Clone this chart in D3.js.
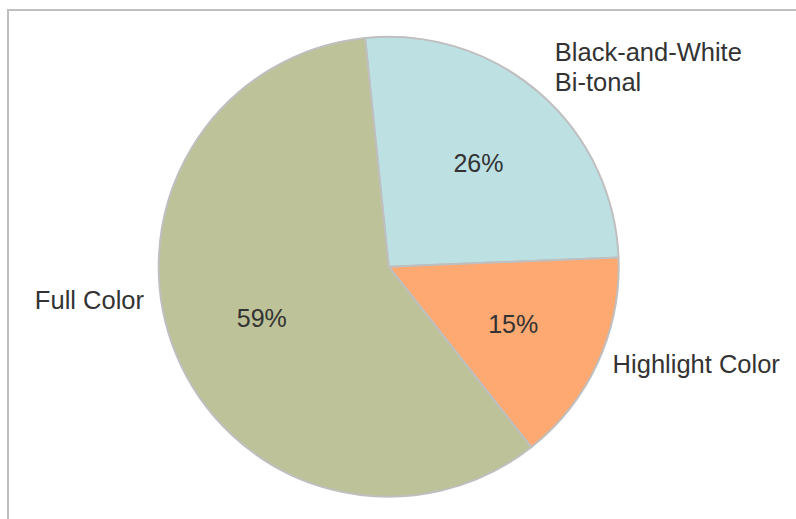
<!DOCTYPE html>
<html>
<head>
<meta charset="utf-8">
<script src="https://cdn.jsdelivr.net/npm/d3@7"></script>
<style>
  html, body { margin: 0; padding: 0; background: #ffffff; }
  svg { display: block; }
  text { font-family: "Liberation Sans", Arial, Helvetica, sans-serif; fill: #333333; }
</style>
</head>
<body>
<svg id="chart" width="796" height="519"></svg>
<script>
// Printing mode share, in percent
const categories = ["Black-and-White\nBi-tonal", "Highlight Color", "Full Color"];
const shares = [26, 15, 59];
const sliceColors = ["#bde0e3", "#fda971", "#bdc298"];

// Outer label placement: angle shift (degrees) from slice middle and radius
const labelShift = [-1.2, -1.3, 14.3];
const labelRadius = [260, 244, 247];

const W = 796, H = 519;
const cx = 388.7, cy = 266.7, R = 230;
const startDeg = -5.9;

const svg = d3.select("#chart");

// chart frame
svg.append("rect")
  .attr("x", 8).attr("y", 10)
  .attr("width", W + 20).attr("height", H + 20)
  .attr("fill", "none")
  .attr("stroke", "#bfbfbf")
  .attr("stroke-width", 2);

const data = categories.map((c, i) => ({ name: c, value: shares[i], color: sliceColors[i], i }));

const start = startDeg * Math.PI / 180;
const pie = d3.pie()
  .value(d => d.value)
  .sort(null)
  .startAngle(start)
  .endAngle(start + 2 * Math.PI);

const arcs = pie(data);
const arc = d3.arc().innerRadius(0).outerRadius(R);

const g = svg.append("g").attr("transform", `translate(${cx},${cy})`);

g.selectAll("path.slice")
  .data(arcs)
  .join("path")
  .attr("class", "slice")
  .attr("d", arc)
  .attr("fill", d => d.data.color)
  .attr("stroke", "#bfbfbf")
  .attr("stroke-width", 2)
  .attr("stroke-linejoin", "round");

// percentage labels inside slices
const pctArc = d3.arc().innerRadius(137).outerRadius(137);
g.selectAll("text.pct")
  .data(arcs)
  .join("text")
  .attr("class", "pct")
  .attr("transform", d => `translate(${pctArc.centroid(d)})`)
  .attr("text-anchor", "middle")
  .attr("dy", "0.35em")
  .style("font-size", "25px")
  .text(d => d3.format(".0f")(d.data.value) + "%");

// category labels outside the pie
g.selectAll("g.lab")
  .data(arcs)
  .join("g")
  .attr("class", "lab")
  .each(function (d) {
    const mid = (d.startAngle + d.endAngle) / 2 + labelShift[d.data.i] * Math.PI / 180;
    const r = labelRadius[d.data.i];
    const x = r * Math.sin(mid), y = -r * Math.cos(mid);
    const lines = d.data.name.split("\n");
    const lh = 30;
    const right = Math.sin(mid) > 0;
    const t = d3.select(this).append("text")
      .attr("text-anchor", right ? "start" : "end")
      .style("font-size", "25.5px");
    lines.forEach((ln, k) => {
      t.append("tspan")
        .attr("x", x)
        .attr("y", y + (k - (lines.length - 1) / 2) * lh)
        .attr("dy", "0.35em")
        .text(ln);
    });
  });
</script>
</body>
</html>
